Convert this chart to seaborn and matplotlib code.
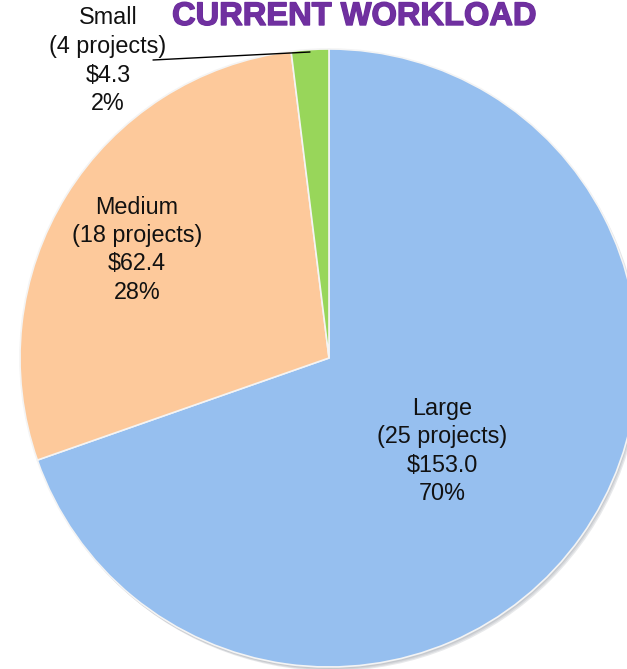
import matplotlib
matplotlib.use("Agg")
import matplotlib.pyplot as plt
import matplotlib.patheffects as pe
import seaborn as sns
from matplotlib.patches import Circle

sns.set_theme(style="white")
plt.rcParams['font.family'] = ['Liberation Sans', 'DejaVu Sans']

categories = ["Large", "Medium", "Small"]
projects = [25, 18, 4]
values = [153.0, 62.4, 4.3]
percents = ["70%", "28%", "2%"]
colors = ["#96BFEF", "#FDC99B", "#98D65A"]

W, H = 627, 669
fig = plt.figure(figsize=(W / 100, H / 100), dpi=100)
ax = fig.add_axes([0, 0, 1, 1])
ax.set_xlim(0, W)
ax.set_ylim(0, H)
ax.axis("off")

cx, cy, r = 329, H - 358, 309

# soft shadow
for i, a in enumerate([0.10, 0.10, 0.12]):
    ax.add_patch(Circle((cx + 1 + i, cy - 2 - i), r, color="#404a5a", alpha=a, lw=0, zorder=0))

ax.pie(values, colors=colors, startangle=90, counterclock=False,
       center=(cx, cy), radius=r, frame=True,
       wedgeprops=dict(edgecolor="#f4f4f4", linewidth=1.2))
ax.set_xlim(0, W)
ax.set_ylim(0, H)
ax.axis("off")

label_pos = [(442, 408), (137, 207), (108, 18)]
pitch = 28.5
for cat, pr, v, pc, (x, y0) in zip(categories, projects, values, percents, label_pos):
    lines = [cat, f"({pr} projects)", f"${v:.1f}", pc]
    for k, t in enumerate(lines):
        ax.text(x, H - (y0 + k * pitch), t, ha="center", va="center",
                fontsize=16.8, color="#111111", zorder=5)

# leader line for Small
ax.plot([153, 310], [H - 60, H - 52], color="black", lw=1, zorder=4)

# title
ax.text(354, H - 25, "CURRENT WORKLOAD", ha="center", va="baseline",
        fontsize=23.5, fontweight="heavy", color="#7030A0", zorder=6,
        path_effects=[pe.withStroke(linewidth=1.0, foreground="#6a2c9c")])

fig.savefig("out.png", dpi=100)
